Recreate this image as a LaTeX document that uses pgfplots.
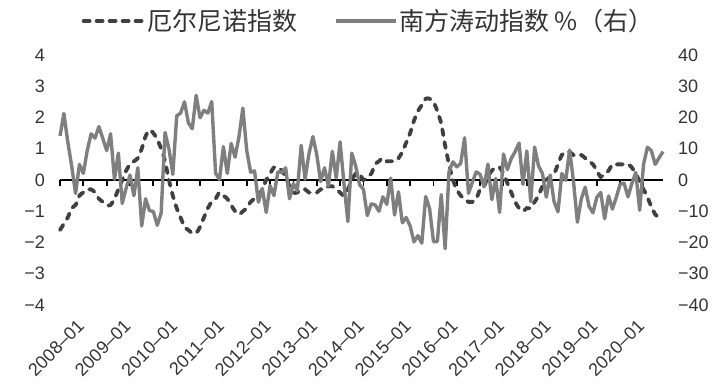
\documentclass[border=0pt]{standalone}
\usepackage{fontspec}
\setmainfont{Liberation Sans}
\newfontfamily\cjk{Noto Sans CJK SC}
\usepackage{pgfplots}
\pgfplotsset{compat=1.18}
\definecolor{ensoc}{HTML}{404040}
\definecolor{soic}{HTML}{7F7F7F}
\definecolor{txt}{HTML}{333333}
\begin{document}
\begin{tikzpicture}
\pgfplotsset{
  base/.style={scale only axis, width=603pt, height=250pt, xmin=0, xmax=155, clip=false},
}
% zero line with ticks
\begin{axis}[base, ymin=-4, ymax=4,
  axis x line=middle, axis y line=none, ytick=\empty,
  axis line style={-, black, line width=2.2pt},
  xtick={0,6,...,150}, xticklabels={},
  tick align=outside, major tick length=6pt,
  every tick/.style={black, line width=1.8pt}]
\end{axis}
% ENSO, left axis
\begin{axis}[base, ymin=-4, ymax=4,
  axis x line*=bottom, axis y line*=left, axis line style={draw=none},
  major tick length=0pt,
  xtick={0,12,...,144},
  xticklabels={2008–01,2009–01,2010–01,2011–01,2012–01,2013–01,2014–01,2015–01,2016–01,2017–01,2018–01,2019–01,2020–01},
  ytick={-4,-3,...,4},
  yticklabels={−4,−3,−2,−1,0,1,2,3,4},
  tick label style={font=\fontsize{18}{20}\selectfont, text=txt},
  yticklabel style={inner sep=0pt, xshift=-15pt},
  xticklabel style={rotate=45, anchor=north east, inner sep=0pt, yshift=-21pt, xshift=2pt},
  legend columns=2,
  legend image code/.code={\draw[#1] (0pt,0pt) -- (60pt,0pt);},
  legend style={at={(0.511,1.136)}, anchor=center, draw=none, fill=none,
    font=\cjk\fontsize{25}{28}\selectfont, text=txt,
    nodes={inner sep=1.5pt},
    /tikz/every even column/.append style={column sep=36pt}}]
\addplot[color=ensoc, line width=3.8pt, line cap=round, dash pattern=on 6pt off 7pt, smooth] coordinates {
(0,-1.6)(1,-1.4)(2,-1.2)(3,-0.9)(4,-0.8)(5,-0.5)(6,-0.4)(7,-0.3)(8,-0.3)(9,-0.4)(10,-0.6)(11,-0.7)
(12,-0.8)(13,-0.8)(14,-0.6)(15,-0.3)(16,0.0)(17,0.3)(18,0.5)(19,0.6)(20,0.7)(21,1.0)(22,1.4)(23,1.6)
(24,1.5)(25,1.3)(26,1.0)(27,0.6)(28,0.0)(29,-0.5)(30,-0.9)(31,-1.2)(32,-1.5)(33,-1.6)(34,-1.7)(35,-1.7)
(36,-1.5)(37,-1.2)(38,-0.9)(39,-0.7)(40,-0.6)(41,-0.4)(42,-0.5)(43,-0.6)(44,-0.8)(45,-1.0)(46,-1.1)(47,-1.0)
(48,-0.9)(49,-0.7)(50,-0.6)(51,-0.5)(52,-0.3)(53,0.0)(54,0.2)(55,0.4)(56,0.4)(57,0.3)(58,0.1)(59,-0.2)
(60,-0.4)(61,-0.4)(62,-0.3)(63,-0.3)(64,-0.4)(65,-0.4)(66,-0.4)(67,-0.3)(68,-0.3)(69,-0.2)(70,-0.2)(71,-0.3)
(72,-0.4)(73,-0.5)(74,-0.3)(75,0.0)(76,0.2)(77,0.2)(78,0.0)(79,0.1)(80,0.2)(81,0.5)(82,0.6)(83,0.7)
(84,0.6)(85,0.6)(86,0.6)(87,0.7)(88,0.9)(89,1.2)(90,1.5)(91,1.9)(92,2.2)(93,2.4)(94,2.6)(95,2.6)
(96,2.5)(97,2.2)(98,1.8)(99,1.1)(100,0.5)(101,0.0)(102,-0.3)(103,-0.5)(104,-0.6)(105,-0.7)(106,-0.7)(107,-0.6)
(108,-0.3)(109,-0.2)(110,0.1)(111,0.3)(112,0.4)(113,0.4)(114,0.2)(115,-0.1)(116,-0.4)(117,-0.7)(118,-0.9)(119,-1.0)
(120,-0.9)(121,-0.9)(122,-0.7)(123,-0.5)(124,-0.2)(125,0.0)(126,0.1)(127,0.2)(128,0.5)(129,0.8)(130,0.9)(131,0.9)
(132,0.8)(133,0.8)(134,0.8)(135,0.7)(136,0.6)(137,0.5)(138,0.3)(139,0.1)(140,0.2)(141,0.3)(142,0.5)(143,0.5)
(144,0.5)(145,0.5)(146,0.5)(147,0.4)(148,0.2)(149,-0.05)(150,-0.3)(151,-0.55)(152,-0.85)(153,-1.1)(154,-1.2)(155,-1.2)
};
\addlegendentry{厄尔尼诺指数}
\addlegendimage{color=soic, line width=3.4pt}
\addlegendentry{南方涛动指数 \%（右）}
\end{axis}
% SOI, right axis
\begin{axis}[base, ymin=-40, ymax=40,
  axis x line*=bottom, axis y line*=right, axis line style={draw=none},
  major tick length=0pt, xtick=\empty,
  ytick={-40,-30,...,40},
  yticklabels={−40,−30,−20,−10,0,10,20,30,40},
  tick label style={font=\fontsize{18}{20}\selectfont, text=txt},
  yticklabel style={inner sep=0pt, xshift=15pt}]
\addplot[draw=soic, line width=3.4pt, line join=round, mark=none] coordinates {
(0,14.1)(1,21.3)(2,12.2)(3,4.5)(4,-4.3)(5,5.0)(6,2.1)(7,9.4)(8,14.8)(9,13.4)(10,17.1)(11,13.3)
(12,9.4)(13,14.8)(14,0.2)(15,8.6)(16,-7.5)(17,-2.6)(18,1.6)(19,-5.0)(20,3.9)(21,-14.7)(22,-6.0)(23,-9.8)
(24,-10.1)(25,-14.5)(26,-10.6)(27,15.2)(28,10.0)(29,1.8)(30,20.5)(31,21.4)(32,25.0)(33,18.3)(34,16.4)(35,27.1)
(36,19.9)(37,22.3)(38,21.4)(39,25.1)(40,2.1)(41,0.2)(42,10.7)(43,2.1)(44,11.7)(45,7.3)(46,13.8)(47,23.0)
(48,9.4)(49,2.5)(50,2.9)(51,-7.1)(52,-2.7)(53,-10.4)(54,-1.8)(55,-5.0)(56,2.6)(57,2.4)(58,3.9)(59,-6.0)
(60,-1.1)(61,-3.5)(62,11.1)(63,0.3)(64,8.4)(65,13.9)(66,8.1)(67,-0.5)(68,3.9)(69,-1.9)(70,9.2)(71,0.6)
(72,12.2)(73,-1.3)(74,-13.3)(75,8.6)(76,4.5)(77,-1.5)(78,-3.0)(79,-11.4)(80,-7.6)(81,-8.0)(82,-10.0)(83,-5.4)
(84,-7.8)(85,0.6)(86,-11.2)(87,-3.8)(88,-13.7)(89,-12.0)(90,-14.7)(91,-19.8)(92,-17.8)(93,-20.2)(94,-5.3)(95,-9.1)
(96,-19.7)(97,-19.7)(98,-4.7)(99,-22.0)(100,2.8)(101,5.8)(102,4.2)(103,5.3)(104,13.5)(105,-4.3)(106,-0.7)(107,2.6)
(108,1.8)(109,-2.2)(110,5.1)(111,-6.3)(112,0.5)(113,-10.4)(114,8.3)(115,3.3)(116,6.9)(117,9.1)(118,11.8)(119,-1.4)
(120,9.3)(121,-6.9)(122,10.5)(123,4.5)(124,2.1)(125,-5.5)(126,1.6)(127,-6.9)(128,-10.2)(129,2.1)(130,-0.1)(131,9.6)
(132,-0.6)(133,-13.5)(134,-6.0)(135,-2.3)(136,-8.5)(137,-10.5)(138,-5.5)(139,-4.0)(140,-12.4)(141,-5.1)(142,-9.3)(143,-5.5)
(144,-1.3)(145,-1.0)(146,-5.4)(147,-1.1)(148,2.4)(149,-9.7)(150,5.0)(151,10.5)(152,9.4)(153,5.0)(154,7.1)(155,9.1)
};
\end{axis}
\pgfresetboundingbox
\path (-60pt,-84pt) rectangle (653pt,305pt);
\end{tikzpicture}
\end{document}
